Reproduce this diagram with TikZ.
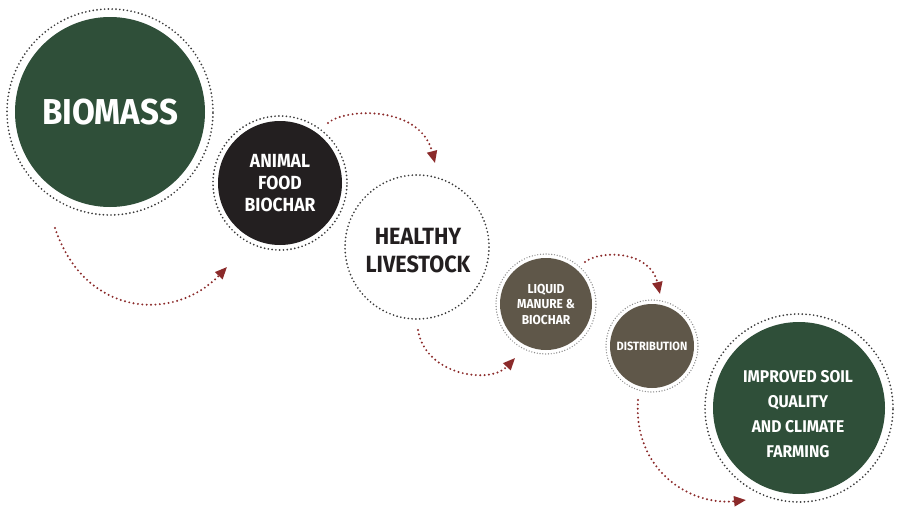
\documentclass[tikz,border=0pt]{standalone}
\usepackage{fontspec}
\setmainfont{Fira Sans}
\newfontfamily\dinfont[FakeStretch=0.92]{Fira Sans}
\usetikzlibrary{arrows.meta}
\definecolor{biogreen}{HTML}{2F4F39}
\definecolor{charblack}{HTML}{231F20}
\definecolor{manbrown}{HTML}{5F5749}
\definecolor{arrred}{HTML}{8B2A2A}
\definecolor{dotgrey}{HTML}{3A3A3A}
\definecolor{lightdot}{HTML}{8A8A8A}
\tikzset{
  disc/.style={circle, inner sep=0pt, align=center, font=\dinfont\bfseries, text=white},
  ring/.style={circle, inner sep=0pt, draw=dotgrey, line width=1.9pt, dash pattern=on 0pt off 3.8pt, line cap=round},
  lightring/.style={ring, draw=lightdot, line width=1.4pt, dash pattern=on 0pt off 2.8pt},
  label text/.style={inner sep=0pt, align=center, font=\dinfont\bfseries, text=white},
  flow/.style={draw=arrred, line width=2.2pt, dash pattern=on 0pt off 4.4pt, line cap=round,
    -{Triangle[length=12pt,width=10pt,fill=arrred]}}
}
\begin{document}
\begin{tikzpicture}[x=1pt,y=-1pt]
\useasboundingbox[fill=white] (0,0) rectangle (900,522);
% Biomass
\node[ring, minimum size=206pt] (bioring) at (110,112) {};
\node[disc, fill=biogreen, minimum size=190pt, font=\dinfont\bfseries\fontsize{36}{40}\selectfont] (bio) at (110,112) {BIOMASS};
% Animal food biochar
\node[ring, minimum size=134pt] (foodring) at (280,183) {};
\node[disc, fill=charblack, minimum size=124pt, font=\dinfont\bfseries\fontsize{19}{22}\selectfont] (food) at (280,183) {ANIMAL\\FOOD\\BIOCHAR};
% Healthy livestock
\node[ring, minimum size=144pt] (live) at (417,247) {};
\node[label text, text=charblack, font=\dinfont\bfseries\fontsize{23.5}{28}\selectfont] (livetext) at (418,251) {HEALTHY\\LIVESTOCK};
% Liquid manure
\node[lightring, minimum size=100pt] (manring) at (546,304) {};
\node[disc, fill=manbrown, minimum size=92pt, font=\dinfont\bfseries\fontsize{13}{15.5}\selectfont] (man) at (546,304) {LIQUID\\MANURE \&\\BIOCHAR};
% Distribution
\node[lightring, minimum size=92pt] (distring) at (652,346) {};
\node[disc, fill=manbrown, minimum size=84pt, font=\dinfont\bfseries\fontsize{12}{14}\selectfont] (dist) at (652,346) {DISTRIBUTION};
% Improved soil
\node[ring, minimum size=188pt] (soilring) at (799,408) {};
\node[disc, fill=biogreen, minimum size=172pt] (soil) at (799,408) {};
\node[label text, font=\dinfont\bfseries\fontsize{17}{25}\selectfont] (soiltext) at (798,414) {IMPROVED SOIL\\QUALITY\\AND CLIMATE\\FARMING};
% arrow end points
\coordinate (a1s) at (55,228);  \coordinate (a1e) at (227,267);
\coordinate (a2s) at (328,123); \coordinate (a2e) at (435,163);
\coordinate (a3s) at (418,330); \coordinate (a3e) at (515,358);
\coordinate (a4s) at (585,262); \coordinate (a4e) at (660,294);
\coordinate (a5s) at (638,400); \coordinate (a5e) at (746,500);
\draw[flow] (a1s) .. controls (85,318) and (175,322) .. (a1e);
\draw[flow] (a2s) .. controls (345,108) and (420,105) .. (a2e);
\draw[flow] (a3s) .. controls (425,375) and (490,385) .. (a3e);
\draw[flow] (a4s) .. controls (600,250) and (650,250) .. (a4e);
\draw[flow] (a5s) .. controls (633,470) and (690,506) .. (a5e);
\end{tikzpicture}
\end{document}
